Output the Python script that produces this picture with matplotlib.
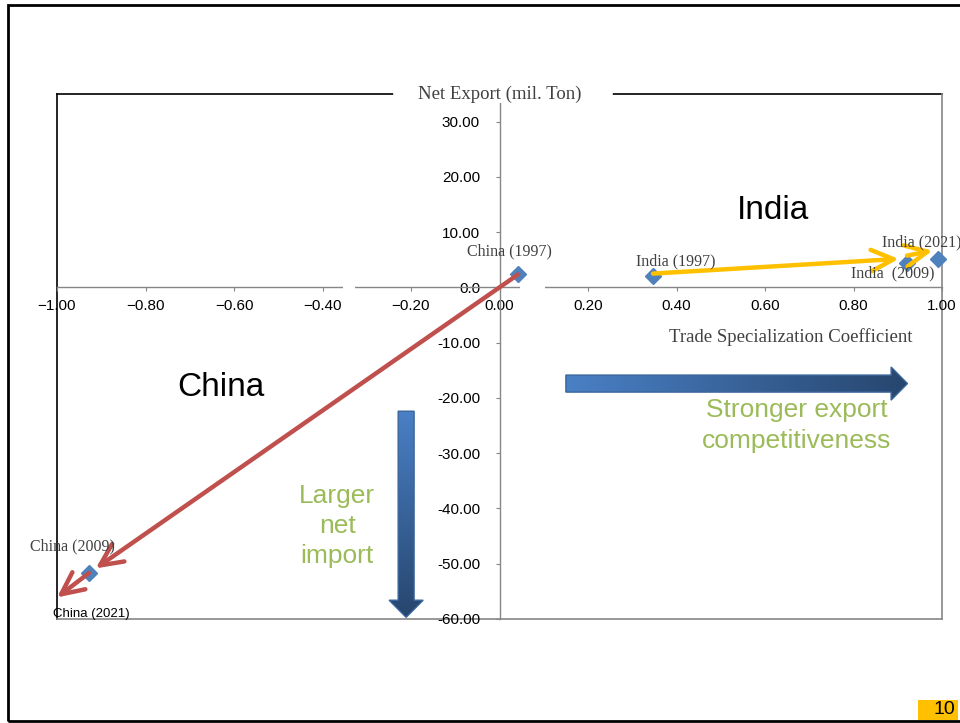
import numpy as np
import matplotlib.pyplot as plt
import matplotlib.transforms as mtransforms
from matplotlib.patches import Polygon, Rectangle
from matplotlib.colors import LinearSegmentedColormap

# trade specialization coefficient (x) vs net export in mil. ton (y)
china_years = ["1997", "2009", "2021"]
china_sc = [0.042, -0.928, -1.00]
china_ne = [2.35, -51.7, -56.1]

india_years = ["1997", "2009", "2021"]
india_sc = [0.347, 0.921, 0.991]
india_ne = [2.0, 4.5, 5.1]

xticks = [-1.0, -0.8, -0.6, -0.4, -0.2, 0.0, 0.2, 0.4, 0.6, 0.8, 1.0]
yticks = [-60, -50, -40, -30, -20, -10, 0, 10, 20, 30]
ytick_labels = ["-60.00", "-50.00", "-40.00", "-30.00", "-20.00", "-10.00",
                "0.0", "10.00", "20.00", "30.00"]

W, H = 960, 723
fig = plt.figure(figsize=(W / 100, H / 100), dpi=100)


def fx(px):
    return px / W


def fy(py):
    return 1 - py / H


# slide frame and page number
fig.add_artist(Rectangle((fx(8), fy(721)), fx(970) - fx(8), fy(5) - fy(721),
                         transform=fig.transFigure, fill=False, ec="black", lw=2))
fig.add_artist(Rectangle((fx(918), fy(720)), fx(40), fy(700) - fy(720),
                         transform=fig.transFigure, fc="#FFC000", ec="none"))
fig.text(fx(955), fy(710), "10", ha="right", va="center", fontsize=14,
         family="Liberation Sans")

ax = fig.add_axes([fx(57), fy(619), fx(885), fy(94) - fy(619)])
ax.set_xlim(-1, 1)
ax.set_ylim(-60, 35)

grey = "#868686"
for s in ["top", "right"]:
    ax.spines[s].set_visible(False)
ax.spines["left"].set_position(("data", 0))
ax.spines["bottom"].set_position(("data", 0))
for s in ["left", "bottom"]:
    ax.spines[s].set_color(grey)
    ax.spines[s].set_linewidth(1)

# chart area border
ax.plot([0, 1], [1, 1], transform=ax.transAxes, color="black", lw=1.2, clip_on=False, zorder=1)
ax.plot([0, 0], [0, 1], transform=ax.transAxes, color="black", lw=1.2, clip_on=False, zorder=1)
ax.plot([1, 1], [0, 1], transform=ax.transAxes, color=grey, lw=1.2, clip_on=False, zorder=1)
ax.plot([0, 1], [0, 0], transform=ax.transAxes, color=grey, lw=1.2, clip_on=False, zorder=1)

ax.set_xticks(xticks)
ax.set_xticklabels([f"{v:.2f}".replace("-", "\u2212") for v in xticks])
ax.set_yticks(yticks)
ax.set_yticklabels(ytick_labels)
ax.tick_params(axis="x", direction="out", length=3, color=grey, pad=5, labelsize=11)
ax.tick_params(axis="y", direction="out", length=3, color=grey, pad=11, labelsize=11)
for lab in ax.get_xticklabels() + ax.get_yticklabels():
    lab.set_family("Liberation Sans")

# little gaps in the zero line
for g0, g1 in [(-0.354, -0.327), (0.046, 0.103)]:
    ax.add_patch(Rectangle((g0, -0.6), g1 - g0, 1.2, fc="white", ec="none", zorder=3))

# axis titles
ax.text(0.0, 1.0, "Net Export (mil. Ton)", transform=ax.get_xaxis_transform(),
        ha="center", va="center", fontsize=13.5, family="Liberation Serif", color="#404040",
        bbox=dict(fc="white", ec="none", pad=0), zorder=5)
ax.plot([-0.235, 0.25], [1.0, 1.0], transform=ax.get_xaxis_transform(), color="white",
        lw=4, clip_on=False, zorder=4)
ax.text(0.659, -9.0, "Trade Specialization Coefficient", ha="center", va="center",
        fontsize=13.5, family="Liberation Serif", color="#404040")

# gradient block arrows
blue_map = LinearSegmentedColormap.from_list("blk", ["#4A80C6", "#27466E"])


def block_arrow(verts, horizontal):
    poly = Polygon(verts, closed=True, fc="none", ec="#3A659A", lw=1, zorder=4)
    ax.add_patch(poly)
    xs = [v[0] for v in verts]
    ys = [v[1] for v in verts]
    g = np.linspace(0, 1, 256)
    grad = g.reshape(1, -1) if horizontal else g.reshape(-1, 1)
    im = ax.imshow(grad, extent=[min(xs), max(xs), min(ys), max(ys)], origin="upper",
                   cmap=blue_map, aspect="auto", zorder=3.5)
    im.set_clip_path(poly)


hx0, hx1, hxh, hyc, hs, hh = 0.15, 0.922, 0.885, -17.4, 1.54, 3.0
block_arrow([(hx0, hyc - hs), (hxh, hyc - hs), (hxh, hyc - hh), (hx1, hyc),
             (hxh, hyc + hh), (hxh, hyc + hs), (hx0, hyc + hs)], True)
vxc, vs, vh, vy0, vyh, vy1 = -0.211, 0.018, 0.0385, -22.4, -56.6, -59.7
block_arrow([(vxc - vs, vy0), (vxc + vs, vy0), (vxc + vs, vyh), (vxc + vh, vyh),
             (vxc, vy1), (vxc - vh, vyh), (vxc - vs, vyh)], False)

# trajectory arrows
red = "#C0504D"
yellow = "#FFC000"
astyle = "->,head_length=1.15,head_width=0.55"


def traj(x0, y0, x1, y1, color, dy0=0, dy1=0, shrink_b=0):
    t0 = ax.transData + mtransforms.ScaledTranslation(0, dy0 / 72, fig.dpi_scale_trans)
    t1 = ax.transData + mtransforms.ScaledTranslation(0, dy1 / 72, fig.dpi_scale_trans)
    ax.annotate("", xy=(x1, y1), xycoords=t1, xytext=(x0, y0), textcoords=t0,
                arrowprops=dict(arrowstyle=astyle, color=color, lw=3.2, mutation_scale=14,
                                shrinkA=0, shrinkB=shrink_b), zorder=6, annotation_clip=False)


traj(china_sc[0], china_ne[0], china_sc[1], china_ne[1], red, shrink_b=6)
traj(china_sc[1], china_ne[1], china_sc[2], china_ne[2], red)
traj(india_sc[0], india_ne[0], india_sc[1], india_ne[1], yellow, dy0=2, dy1=3, shrink_b=6)
traj(india_sc[1], india_ne[1], india_sc[2], india_ne[2], yellow, dy0=5, dy1=7, shrink_b=4)

# points
mk = dict(marker="D", ms=8, color="#4F81BD", ls="none", zorder=5, clip_on=False)
ax.plot(china_sc[:2], china_ne[:2], **mk)
ax.plot(india_sc, india_ne, **mk)

# point labels
lab_kw = dict(textcoords="offset points", ha="center", va="center", fontsize=11.5,
              family="Liberation Serif", color="#404040", zorder=7, annotation_clip=False)
ax.annotate("China (1997)", (china_sc[0], china_ne[0]), xytext=(-6.5, 16.5), **lab_kw)
ax.annotate("China (2009)", (china_sc[1], china_ne[1]), xytext=(-12, 19), **lab_kw)
ax.annotate("China (2021)", (china_sc[2], china_ne[2]), xytext=(25, -12),
            textcoords="offset points", ha="center", va="center", fontsize=9.5,
            family="Liberation Sans", color="black", annotation_clip=False)
ax.annotate("India (1997)", (india_sc[0], india_ne[0]), xytext=(16, 11), **lab_kw)
ax.annotate("India  (2009)", (india_sc[1], india_ne[1]), xytext=(-10, -8), **lab_kw)
ax.annotate("India (2021)", (india_sc[2], india_ne[2]), xytext=(-12, 12), **lab_kw)

# region annotations
ax.text(0.617, 14.0, "India", ha="center", va="center", fontsize=24, family="Liberation Sans")
ax.text(-0.629, -18.1, "China", ha="center", va="center", fontsize=24, family="Liberation Sans")
green = "#9BBB59"
ax.text(-0.367, -43.2, "Larger\nnet\nimport", ha="center", va="center", fontsize=19,
        family="Liberation Sans", color=green, linespacing=1.33)
ax.text(0.672, -25.0, "Stronger export\ncompetitiveness", ha="center", va="center",
        fontsize=19, family="Liberation Sans", color=green, linespacing=1.33)

fig.savefig("out.png", dpi=100)
